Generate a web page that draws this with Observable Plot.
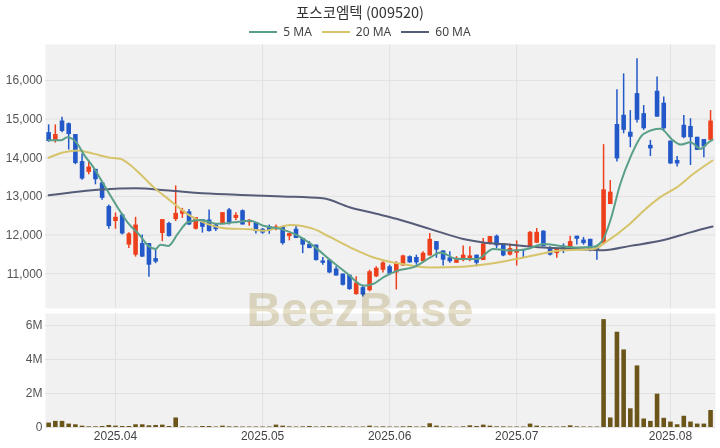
<!DOCTYPE html>
<html><head><meta charset="utf-8">
<script src="https://cdn.jsdelivr.net/npm/d3@7"></script>
<script src="https://cdn.jsdelivr.net/npm/@observablehq/plot@0.6"></script>
<style>
body{margin:0;background:#fff;}
#wrap{position:relative;width:720px;height:448px;overflow:hidden;font-family:"Noto Sans CJK KR","Noto Sans",sans-serif;}
#title{position:absolute;top:2px;left:0;width:720px;text-align:center;font-size:14.5px;line-height:20px;color:#333;}
#legend{position:absolute;top:24px;left:0;width:720px;display:flex;justify-content:center;align-items:center;font-family:"Noto Sans",sans-serif;font-size:12px;color:#444;line-height:16px;}
.item{display:flex;align-items:center;margin:0 5px;}
.sw{width:28px;height:2px;margin-right:6px;}
#main{position:absolute;top:42px;left:0;}
#vol{position:absolute;top:310px;left:0;}
#wm{position:absolute;left:0;width:720px;top:282px;text-align:center;font-family:"Liberation Sans",Arial,sans-serif;font-weight:bold;font-size:48px;line-height:56px;color:#e6e0c9;mix-blend-mode:multiply;pointer-events:none;}
</style></head>
<body><div id="wrap">
<div id="title">포스코엠텍 (009520)</div>
<div id="legend"></div>
<div id="main"></div>
<div id="vol"></div>
<div id="wm">BeezBase</div>
</div>
<script>
// Daily OHLC (trading days 2025-03-18 .. 2025-08-11)
const open = [14650,14450,14950,14880,14600,13900,13620,13700,13350,12740,12350,12520,11740,11480,11780,11780,11390,12040,12300,12400,
12540,12600,12150,12400,12390,12260,12300,12650,12430,12630,12320,12320,12150,12220,12150,12220,11960,12150,11910,11760,
11740,11330,11350,11120,10990,10960,10460,10640,10560,10920,11090,11180,11020,11200,11440,11420,11310,11460,11830,11590,
11410,11270,11340,11340,11480,11340,11780,11970,11770,11480,11530,11620,11700,11790,12100,11650,11520,11710,11650,11970,
11870,11890,11700,11780,12790,14860,15100,14660,15660,15140,14320,15720,15410,14430,13930,14840,14810,14530,14470,14450];
const high = [14850,14850,15050,14900,14600,14100,13900,13700,13390,12780,12570,12560,12060,12460,12000,11780,11650,12400,12330,13270,
12690,12660,12450,12400,12650,12300,12580,12690,12580,12650,12400,12320,12170,12260,12260,12230,12040,12220,11910,11830,
11740,11420,11370,11180,10990,10960,10920,10700,11090,11180,11310,11220,11310,11480,11460,11480,11570,12040,11830,11590,
11570,11440,11720,11700,11480,11910,11960,12000,11780,11770,11850,11620,12090,12170,12110,11700,11650,11770,11970,11970,
11940,11890,11720,14340,13410,15760,16170,15220,16560,15350,14450,16090,15570,14430,14030,15090,15010,14530,14470,15220];
const low = [14400,14380,14650,14200,13820,13420,13560,13300,12900,12150,12150,12000,11650,11430,11420,10910,11260,11830,11950,12350,
12430,12250,12130,12050,12080,12090,12280,12260,12370,12260,12230,12030,12020,12020,12110,11740,11850,11910,11520,11650,
11330,11220,11000,10940,10680,10570,10440,10400,10530,10900,11020,10960,10580,11200,11270,11220,11310,11460,11400,11200,
11270,11270,11310,11310,11180,11340,11740,11650,11440,11460,11200,11400,11700,11780,11700,11460,11400,11520,11630,11740,
11740,11570,11350,11760,12790,13890,14620,14260,14900,14710,14030,15050,14710,13830,13760,14490,13800,14190,14000,14430];
const close = [14420,14600,14680,14600,13850,13450,13760,13430,12950,12220,12460,12030,12030,12260,11430,11220,11300,12400,11960,12560,
12630,12260,12450,12200,12090,12140,12580,12320,12510,12260,12380,12090,12050,12110,12210,11780,12040,11910,11740,11650,
11340,11270,11020,10940,10700,10590,10760,10450,11050,11140,11280,10990,11260,11460,11280,11280,11530,11890,11610,11350,
11310,11400,11480,11460,11270,11770,11960,11720,11460,11650,11610,11590,12070,12070,11700,11480,11630,11610,11830,11890,
11780,11610,11600,13170,13110,13970,14710,14530,14970,14750,14230,15050,14750,13840,13840,14520,14520,14190,14280,14950];
// Volume, millions of shares
const volume = [0.26,0.36,0.36,0.2,0.16,0.08,0.04,0.04,0.06,0.12,0.08,0.06,0.06,0.16,0.16,0.1,0.12,0.14,0.06,0.56,
0.04,0.03,0.03,0.06,0.06,0.03,0.08,0.04,0.04,0.03,0.03,0.03,0.03,0.03,0.14,0.08,0.04,0.03,0.04,0.06,
0.03,0.04,0.05,0.03,0.04,0.03,0.03,0.03,0.08,0.03,0.04,0.03,0.03,0.04,0.05,0.03,0.04,0.22,0.08,0.04,
0.04,0.02,0.04,0.1,0.06,0.14,0.08,0.04,0.04,0.03,0.03,0.03,0.2,0.08,0.04,0.04,0.03,0.04,0.1,0.04,
0.03,0.03,0.03,6.34,0.56,5.6,4.56,1.1,3.62,0.5,0.36,1.96,0.54,0.32,0.16,0.66,0.32,0.2,0.2,1.0];
// Moving averages (position in trading days, value)
const ma5Day = [0,1.8,2.8,4.3,5.2,6.7,8.2,10.3,11.8,13.7,14.9,16,16.7,17.9,19.3,20.8,22.7,25.3,27.7,30.2,32.1,34.7,37.2,39.6,42.2,44.7,47.1,48.6,50.1,52.2,54.6,57.1,58.6,61.1,64.1,66.5,69.1,71.6,74,76.5,79.1,81.5,82.8,84,85.5,87,89,91.5,93.4,94.5,96,97.5,98.7,99.3];
const ma5 = [14450,14450,14530,14360,14100,13750,13320,12720,12330,11980,11720,11640,11750,11720,12030,12330,12390,12290,12330,12370,12240,12160,11990,11720,11340,11000,10690,10740,10910,11080,11170,11420,11550,11380,11380,11640,11600,11640,11770,11720,11680,11700,11850,12370,13320,14010,14620,14750,14450,14340,14400,14230,14400,14460];
const ma20Day = [0,2.3,4.3,6.8,9.3,10.8,12,13.7,15.7,18.2,20.7,23.7,26.7,30.2,32.1,36.2,39.6,42.2,45.6,48.6,52.2,57.1,62,66.5,71.6,76.5,81.5,83.6,86.6,89,91.5,94,96.4,99.3];
const ma20 = [14000,14140,14190,14100,14000,13970,13840,13580,13240,12890,12550,12290,12170,12150,12110,12260,12160,11940,11640,11420,11270,11160,11180,11270,11440,11600,11640,11850,12240,12630,12980,13240,13580,13930];
const ma60Day = [0,8,13,18,23,30,35,41,45,49,52,57,62,65,69,74,79,83,87,92,96,99.3];
const ma60 = [13030,13180,13210,13150,13080,13030,13000,12950,12720,12550,12420,12160,11900,11810,11750,11680,11640,11610,11720,11870,12070,12220];
// Axis ticks
const priceTicks = [11000,12000,13000,14000,15000,16000];
const volTicks = [0,2,4,6];
const monthDay = [10,32,51,70,93];
const monthLabels = ["2025.04","2025.05","2025.06","2025.07","2025.08"];
const seriesNames = ["5 MA","20 MA","60 MA"];
const seriesColors = ["#5a9f88","#d6c46a","#555c78"];

const UP = "#ee3f1c", DOWN = "#2258c8";
const days = d3.range(close.length);
const col = i => close[i] >= open[i] ? UP : DOWN;
const pts = (xs, ys) => xs.map((x, k) => ({x, y: ys[k]}));
const xDomain = [-0.47, 99.74];

// legend
const lg = document.getElementById("legend");
seriesNames.forEach((n, k) => {
  const it = document.createElement("div"); it.className = "item";
  it.innerHTML = `<div class="sw" style="background:${seriesColors[k]}"></div><span>${n}</span>`;
  lg.appendChild(it);
});

const gridStroke = "#e1e1e1";
const main = Plot.plot({
  width: 720, height: 268,
  marginTop: 2, marginBottom: 2, marginLeft: 45, marginRight: 5,
  x: {type: "linear", domain: xDomain, axis: null},
  y: {domain: [10100, 16930], axis: null},
  style: {fontFamily: "'Liberation Sans', Arial, sans-serif", fontSize: "12px", color: "#555", background: "transparent"},
  marks: [
    Plot.frame({fill: "#f1f1f1", stroke: null}),
    Plot.gridY(priceTicks, {stroke: gridStroke, strokeOpacity: 1}),
    Plot.gridX(monthDay, {stroke: gridStroke, strokeOpacity: 1}),
    Plot.axisY(priceTicks, {tickSize: 0, tickPadding: 3, tickFormat: d3.format(","), fontSize: 12, fill: "#555", label: null}),
    Plot.ruleX(days, {x: d => d, y1: i => low[i], y2: i => high[i], stroke: col, strokeWidth: 1.5}),
    Plot.ruleX(days, {x: d => d, y1: i => open[i], y2: i => close[i], stroke: col, strokeWidth: 4.6}),
    Plot.line(pts(ma60Day, ma60), {x: "x", y: "y", stroke: seriesColors[2], strokeWidth: 2, curve: "monotone-x"}),
    Plot.line(pts(ma20Day, ma20), {x: "x", y: "y", stroke: seriesColors[1], strokeWidth: 2, curve: "monotone-x"}),
    Plot.line(pts(ma5Day, ma5), {x: "x", y: "y", stroke: seriesColors[0], strokeWidth: 2, curve: "monotone-x"})
  ]
});
document.getElementById("main").appendChild(main);

const vol = Plot.plot({
  width: 720, height: 138,
  marginTop: 3, marginBottom: 21, marginLeft: 45, marginRight: 5,
  x: {type: "linear", domain: xDomain, axis: null},
  y: {domain: [0, 6.7], axis: null},
  style: {fontFamily: "'Liberation Sans', Arial, sans-serif", fontSize: "12px", color: "#555", background: "transparent"},
  marks: [
    Plot.frame({fill: "#f1f1f1", stroke: null}),
    Plot.gridY(volTicks, {stroke: gridStroke, strokeOpacity: 1}),
    Plot.gridX(monthDay, {stroke: gridStroke, strokeOpacity: 1}),
    Plot.axisY(volTicks, {tickSize: 0, tickPadding: 3, tickFormat: d => d === 0 ? "0" : d + "M", fontSize: 12, fill: "#555", label: null}),
    Plot.axisX(monthDay, {tickSize: 0, tickPadding: 4, tickFormat: (d, k) => monthLabels[k], fontSize: 12, fill: "#444", label: null}),
    Plot.ruleX(days, {x: d => d, y1: 0, y2: i => volume[i], stroke: "#6b5519", strokeWidth: 4.6})
  ]
});
document.getElementById("vol").appendChild(vol);
</script>
</body></html>
